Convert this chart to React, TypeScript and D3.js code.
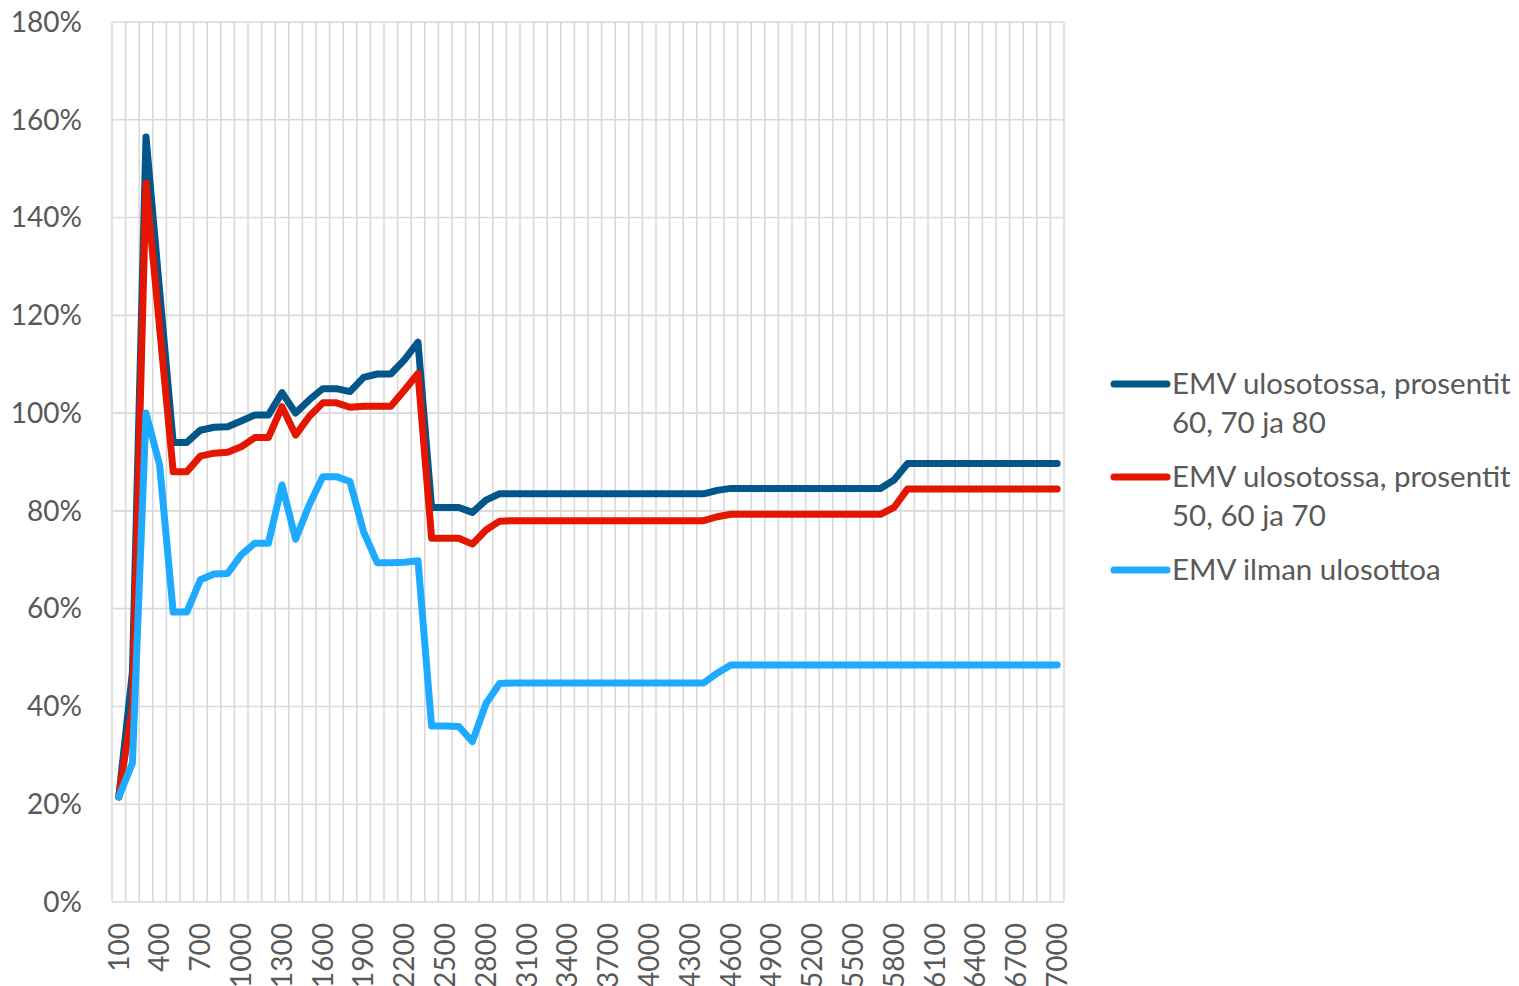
import React from 'react';
import * as d3 from 'd3';

const categories = [
  100, 200, 300, 400, 500, 600, 700, 800, 900, 1000,
  1100, 1200, 1300, 1400, 1500, 1600, 1700, 1800, 1900, 2000,
  2100, 2200, 2300, 2400, 2500, 2600, 2700, 2800, 2900, 3000,
  3100, 3200, 3300, 3400, 3500, 3600, 3700, 3800, 3900, 4000,
  4100, 4200, 4300, 4400, 4500, 4600, 4700, 4800, 4900, 5000,
  5100, 5200, 5300, 5400, 5500, 5600, 5700, 5800, 5900, 6000,
  6100, 6200, 6300, 6400, 6500, 6600, 6700, 6800, 6900, 7000,
];

// percent values
const emv607080 = [
  21.5, 47, 156.5, 125, 94, 94, 96.5, 97.1, 97.2, 98.4,
  99.6, 99.6, 104.2, 100, 102.7, 105, 105, 104.4, 107.3, 108,
  108, 110.9, 114.5, 80.7, 80.7, 80.7, 79.7, 82.2, 83.5, 83.5,
  83.5, 83.5, 83.5, 83.5, 83.5, 83.5, 83.5, 83.5, 83.5, 83.5,
  83.5, 83.5, 83.5, 83.5, 84.2, 84.6, 84.6, 84.6, 84.6, 84.6,
  84.6, 84.6, 84.6, 84.6, 84.6, 84.6, 84.6, 86.3, 89.7, 89.7,
  89.7, 89.7, 89.7, 89.7, 89.7, 89.7, 89.7, 89.7, 89.7, 89.7,
];

const emv506070 = [
  21.5, 40, 147, 117.5, 88, 88, 91.2, 91.8, 92, 93.1,
  95, 95, 101.3, 95.5, 99.3, 102.1, 102.1, 101.2, 101.4, 101.4,
  101.4, 104.7, 108.1, 74.4, 74.4, 74.4, 73.2, 76.1, 77.9, 78,
  78, 78, 78, 78, 78, 78, 78, 78, 78, 78,
  78, 78, 78, 78, 78.8, 79.3, 79.3, 79.3, 79.3, 79.3,
  79.3, 79.3, 79.3, 79.3, 79.3, 79.3, 79.3, 80.7, 84.5, 84.5,
  84.5, 84.5, 84.5, 84.5, 84.5, 84.5, 84.5, 84.5, 84.5, 84.5,
];

const emvIlman = [
  21.5, 28.4, 100, 89.4, 59.3, 59.3, 65.9, 67.1, 67.2, 71,
  73.4, 73.4, 85.3, 74.2, 81.2, 87, 87, 86, 75.7, 69.4,
  69.4, 69.5, 69.8, 36, 36, 35.9, 32.8, 40.6, 44.7, 44.8,
  44.8, 44.8, 44.8, 44.8, 44.8, 44.8, 44.8, 44.8, 44.8, 44.8,
  44.8, 44.8, 44.8, 44.8, 46.8, 48.5, 48.5, 48.5, 48.5, 48.5,
  48.5, 48.5, 48.5, 48.5, 48.5, 48.5, 48.5, 48.5, 48.5, 48.5,
  48.5, 48.5, 48.5, 48.5, 48.5, 48.5, 48.5, 48.5, 48.5, 48.5,
];

const yTicks = [0, 20, 40, 60, 80, 100, 120, 140, 160, 180];

const series = [
  { name: ['EMV ulosotossa, prosentit', '60, 70 ja 80'], values: emv607080, color: '#02568a' },
  { name: ['EMV ulosotossa, prosentit', '50, 60 ja 70'], values: emv506070, color: '#e41600' },
  { name: ['EMV ilman ulosottoa'], values: emvIlman, color: '#1eabff' },
];

const W = 1519;
const H = 986;
const left = 112;
const right = 1064;
const top = 22;
const bottom = 902;
const font = 'Lato, "Open Sans", sans-serif';
const textColor = '#595959';
const gridColor = '#d9d9d9';

export default function App() {
  const x = d3.scaleBand<number>().domain(categories).range([left, right]);
  const y = d3.scaleLinear().domain([0, 180]).range([bottom, top]);
  const cx = (c: number) => (x(c) ?? 0) + x.bandwidth() / 2;

  const line = d3
    .line<number>()
    .x((_, i) => cx(categories[i]))
    .y((d) => y(d));

  const bounds = categories.map((c) => x(c) ?? 0).concat([right]);

  return (
    <div style={{ position: 'absolute', left: 0, top: 0 }}>
      <svg width={W} height={H} style={{ display: 'block', background: '#fff' }}>
        {/* gridlines */}
        {bounds.map((b, i) => (
          <line key={'v' + i} x1={b} x2={b} y1={top} y2={bottom} stroke={gridColor} strokeWidth={1.6} />
        ))}
        {yTicks.map((t) => (
          <line key={'h' + t} x1={left} x2={right} y1={y(t)} y2={y(t)} stroke={gridColor} strokeWidth={1.6} />
        ))}

        {/* y labels */}
        {yTicks.map((t) => (
          <text
            key={'yl' + t}
            x={82}
            y={y(t)}
            dy="0.35em"
            textAnchor="end"
            fontFamily={font}
            fontSize={28}
            fill={textColor}
          >
            {t + '%'}
          </text>
        ))}

        {/* x labels */}
        {categories
          .filter((_, i) => i % 3 === 0)
          .map((c) => (
            <text
              key={'xl' + c}
              transform={`translate(${cx(c)},923) rotate(-90)`}
              dy="0.35em"
              textAnchor="end"
              fontFamily={font}
              fontSize={28}
              fill={textColor}
            >
              {c}
            </text>
          ))}

        {/* lines */}
        {series.map((s) => (
          <path
            key={s.color}
            d={line(s.values) ?? ''}
            fill="none"
            stroke={s.color}
            strokeWidth={7}
            strokeLinejoin="round"
            strokeLinecap="round"
          />
        ))}

        {/* legend */}
        {series.map((s, i) => {
          const ly = 384 + i * 93;
          return (
            <g key={'lg' + i}>
              <line x1={1114} x2={1167} y1={ly} y2={ly} stroke={s.color} strokeWidth={7} strokeLinecap="round" />
              <text x={1172} y={ly} fontFamily={font} fontSize={29.5} fill={textColor}>
                {s.name.map((n, j) => (
                  <tspan key={j} x={1172} dy={j === 0 ? '0.35em' : 39}>
                    {n}
                  </tspan>
                ))}
              </text>
            </g>
          );
        })}
      </svg>
    </div>
  );
}
